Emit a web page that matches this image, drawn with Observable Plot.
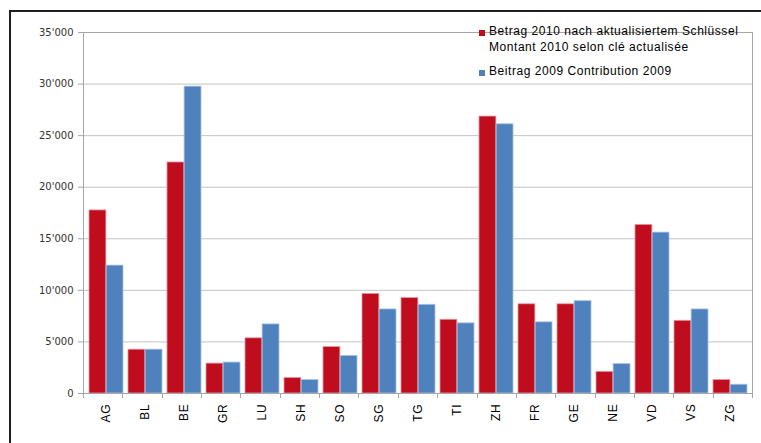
<!DOCTYPE html>
<html><head><meta charset="utf-8">
<script src="https://cdn.jsdelivr.net/npm/d3@7"></script>
<script src="https://cdn.jsdelivr.net/npm/@observablehq/plot@0.6"></script>
<style>
body{margin:0;background:#fff;}
#wrap{position:relative;width:761px;height:443px;overflow:hidden;font-family:"Liberation Sans",Arial,sans-serif;}
#chart{position:absolute;left:0;top:0;}
#frame{position:absolute;left:9px;top:10px;width:820px;height:520px;border:2px solid #1e1e1e;box-sizing:border-box;}
.item{position:absolute;left:479px;font-size:12px;line-height:15.5px;color:#000;white-space:nowrap;letter-spacing:0.55px;}
.sw{position:absolute;left:0;top:6px;width:6px;height:6px;}
.txt{position:absolute;left:10px;top:0;}
#chart g[aria-label="x-axis tick label"] text{letter-spacing:0.8px;}
</style></head><body>
<div id="wrap"><div id="chart"></div><div id="frame"></div><div id="legend"></div></div>
<script>
const cantons = ["AG","BL","BE","GR","LU","SH","SO","SG","TG","TI","ZH","FR","GE","NE","VD","VS","ZG"];
const betrag2010 = [17750,4250,22400,2900,5350,1500,4500,9650,9250,7150,26850,8650,8650,2100,16350,7050,1300];
const beitrag2009 = [12400,4250,29750,3000,6700,1300,3650,8150,8600,6800,26100,6900,8950,2850,15600,8150,850];
const seriesLabels = [
  ["Betrag 2010 nach aktualisiertem Schlüssel", "Montant 2010 selon clé actualisée"],
  ["Beitrag 2009 Contribution 2009"]
];
const seriesColors = ["#C00D1E", "#4F81BD"];
const seriesEdges = ["#E49AA2", "#A9C4E4"];
const yTicks = [0, 5000, 10000, 15000, 20000, 25000, 30000, 35000];

const data = cantons.map((c, i) => ({canton: c, v2010: betrag2010[i], v2009: beitrag2009[i]}));
const locale = d3.formatLocale({decimal: ".", thousands: "'", grouping: [3], currency: ["", ""]});
const fmt = locale.format(",");

const W = 761, H = 443, mL = 83, mR = 9, mT = 32, mB = 50;
const pIn = 0.13, pOut = 0.065;
const step = (W - mL - mR) / (cantons.length - pIn + 2 * pOut);
const half = step * (1 - pIn) / 2;

const boundaryTicks = (index, scales, values, dims) => {
  const g = d3.create("svg:g").attr("stroke", "#a6a6a6").attr("stroke-width", 1);
  const w = dims.width - dims.marginLeft - dims.marginRight;
  const y0 = dims.height - dims.marginBottom;
  for (let i = 0; i <= cantons.length; i++) {
    const x = Math.round(dims.marginLeft + i * w / cantons.length) + 0.5;
    g.append("line").attr("x1", x).attr("x2", x).attr("y1", y0).attr("y2", y0 + 5);
  }
  return g.node();
};

const chart = Plot.plot({
  width: W, height: H,
  marginLeft: mL, marginRight: mR, marginTop: mT, marginBottom: mB,
  style: {background: "transparent", fontFamily: "'Liberation Sans', Arial, sans-serif"},
  x: {domain: cantons, paddingInner: pIn, paddingOuter: pOut, label: null},
  y: {domain: [0, 35000], label: null},
  marks: [
    Plot.gridY(yTicks, {stroke: "#c3c3c3", strokeOpacity: 1}),
    Plot.barY(data, {x: "canton", y: "v2010", fill: seriesColors[0], stroke: seriesEdges[0], strokeWidth: 0.8, insetRight: half}),
    Plot.barY(data, {x: "canton", y: "v2009", fill: seriesColors[1], stroke: seriesEdges[1], strokeWidth: 0.8, insetLeft: half}),
    Plot.frame({stroke: "#a6a6a6"}),
    Plot.axisY(yTicks, {tickFormat: fmt, tickSize: 5, tickPadding: 5, stroke: "#a6a6a6", fill: "#333", fontSize: 10, fontFamily: "'DejaVu Sans', Verdana, sans-serif", label: null}),
    Plot.axisX({tickSize: 0, tickRotate: -90, tickPadding: 10, fill: "#000", fontSize: 12, label: null}),
    boundaryTicks
  ]
});
document.getElementById("chart").appendChild(chart);

const legend = document.getElementById("legend");
const tops = [24, 64];
seriesLabels.forEach((lines, k) => {
  const item = document.createElement("div");
  item.className = "item";
  item.style.top = tops[k] + "px";
  const sw = document.createElement("div");
  sw.className = "sw";
  sw.style.background = seriesColors[k];
  const txt = document.createElement("div");
  txt.className = "txt";
  lines.forEach((l, j) => {
    if (j) txt.appendChild(document.createElement("br"));
    txt.appendChild(document.createTextNode(l));
  });
  item.appendChild(sw);
  item.appendChild(txt);
  legend.appendChild(item);
});
</script>
</body></html>
